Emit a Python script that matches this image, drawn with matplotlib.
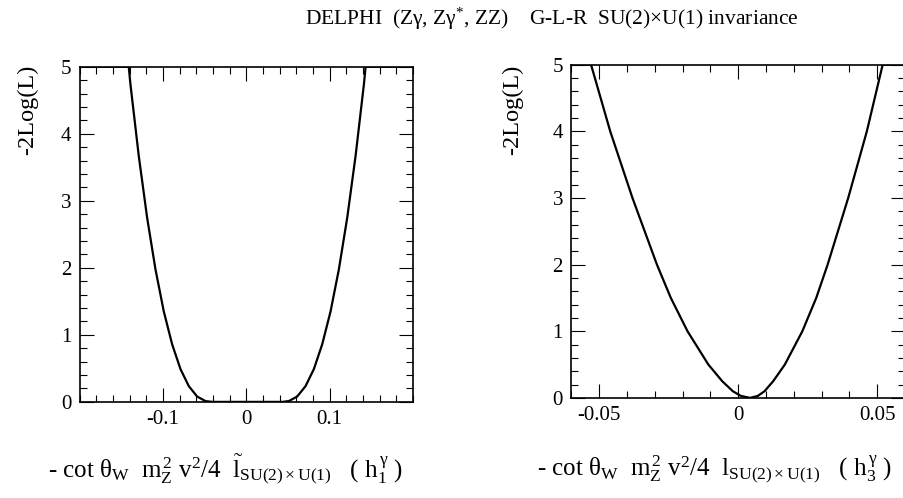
import numpy as np
import matplotlib
matplotlib.use('Agg')
import matplotlib.pyplot as plt
from matplotlib.ticker import MultipleLocator, FixedLocator

plt.rcParams['font.family'] = ['Liberation Serif', 'DejaVu Serif']
plt.rcParams['mathtext.fontset'] = 'custom'
plt.rcParams['mathtext.rm'] = 'Liberation Serif'
plt.rcParams['mathtext.it'] = 'Liberation Serif:italic'
plt.rcParams['axes.unicode_minus'] = False

# h1 gamma scan (left panel)
h1_x = [-0.2, -0.141, -0.139, -0.129, -0.119, -0.109, -0.099, -0.089, -0.079,
        -0.069, -0.059, -0.049, -0.041, -0.034, 0.0, 0.036, 0.043, 0.051,
        0.061, 0.071, 0.081, 0.091, 0.101, 0.111, 0.121, 0.131, 0.141, 0.143, 0.2]
h1_y = [5, 5, 4.74, 3.67, 2.75, 1.98, 1.35, 0.86, 0.49,
        0.235, 0.08, 0.012, 0.0, 0.0, 0.0, 0.0, 0.0, 0.012,
        0.08, 0.235, 0.49, 0.86, 1.35, 1.98, 2.75, 3.67, 4.74, 5, 5]

# h3 gamma scan (right panel)
h3_x = [-0.06, -0.0529, -0.046, -0.038, -0.0292, -0.0242, -0.0182, -0.0107,
        -0.0057, -0.0019, 0.001, 0.0043, 0.0071, 0.0095, 0.0126, 0.0168,
        0.0231, 0.0281, 0.0322, 0.0396, 0.0463, 0.052, 0.06]
h3_y = [5, 5, 4, 3, 2, 1.5, 1, 0.5,
        0.25, 0.1, 0.03, 0.0, 0.03, 0.1, 0.25, 0.5,
        1, 1.5, 2, 3, 4, 5, 5]

fig = plt.figure(figsize=(9.04, 4.98), dpi=100)

ax1 = fig.add_axes([0.088, 0.193, 0.369, 0.673])
ax2 = fig.add_axes([0.632, 0.201, 0.369, 0.669])

for ax in (ax1, ax2):
    ax.set_ylim(0, 5)
    ax.yaxis.set_major_locator(MultipleLocator(1))
    ax.yaxis.set_minor_locator(MultipleLocator(0.2))
    ax.tick_params(which='both', direction='in', top=True, right=True, labelsize=15, width=0.8)
    ax.tick_params(which='major', length=10, pad=6)
    ax.tick_params(which='minor', length=5)
    for s in ax.spines.values():
        s.set_linewidth(1.2)

ax1.plot(h1_x, h1_y, color='black', lw=1.6)
ax1.set_xlim(-0.2, 0.2)
ax1.xaxis.set_major_locator(FixedLocator([-0.1, 0, 0.1]))
ax1.xaxis.set_minor_locator(MultipleLocator(0.02))
ax1.set_xticklabels(['-0.1', '0', '0.1'])

ax2.plot(h3_x, h3_y, color='black', lw=1.6)
ax2.set_xlim(-0.06, 0.06)
ax2.xaxis.set_major_locator(FixedLocator([-0.05, 0, 0.05]))
ax2.xaxis.set_minor_locator(MultipleLocator(0.01))
ax2.set_xticklabels(['-0.05', '0', '0.05'])

fig.text(0.61, 0.962, r'DELPHI  (Zγ, Zγ$^{*}$, ZZ)    G-L-R  SU(2)×U(1) invariance',
         ha='center', va='center', fontsize=15.5)
fig.text(0.031, 0.78, '-2Log(L)', rotation=90, ha='center', va='center', fontsize=17.5)
fig.text(0.567, 0.78, '-2Log(L)', rotation=90, ha='center', va='center', fontsize=17.5)

fig.text(0.25, 0.058, r'- cot θ$_{\mathrm{W}}$  m$_{\mathrm{Z}}^{\,2}$ v$^{2}$/4  $\tilde{\mathrm{l}}_{\mathrm{SU(2)\times U(1)}}$   ( h$_1^{\,\mathrm{γ}}$ )',
         ha='center', va='center', fontsize=18)
fig.text(0.79, 0.058, r'- cot θ$_{\mathrm{W}}$  m$_{\mathrm{Z}}^{\,2}$ v$^{2}$/4  l$_{\mathrm{SU(2)\times U(1)}}$   ( h$_3^{\,\mathrm{γ}}$ )',
         ha='center', va='center', fontsize=18)

fig.savefig('out.png', dpi=100)
